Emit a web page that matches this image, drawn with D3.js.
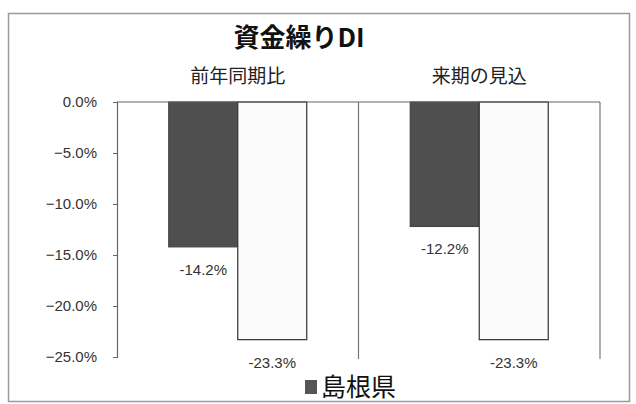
<!DOCTYPE html>
<html>
<head>
<meta charset="utf-8">
<script src="https://cdn.jsdelivr.net/npm/d3@7"></script>
<style>
  body { margin: 0; background: #fff; }
  svg { display: block; }
  .tick text { font-family: "Liberation Sans", "Noto Sans", sans-serif; }
</style>
</head>
<body>
<svg class="chart" width="636" height="404"></svg>
<script>
// chart data
const categories = ["前年同期比", "来期の見込"];
const seriesNames = ["島根県", "全国"];
const shimane = [-14.2, -12.2];
const other = [-23.3, -23.3];
const yTicks = [0, -5, -10, -15, -20, -25];

const svg = d3.select(".chart");
const jp = "'Noto Sans CJK JP', sans-serif";

// frame
svg.append("rect")
  .attr("x", 8.5).attr("y", 13.5)
  .attr("width", 621).attr("height", 388)
  .attr("fill", "#fff")
  .attr("stroke", "#9a9a9a")
  .attr("stroke-width", 1.5);

const plotL = 117, plotR = 600, plotT = 102, plotB = 357;

const x = d3.scaleBand().domain(categories).range([plotL, plotR]);
const xs = d3.scaleBand().domain(seriesNames).range([0, x.bandwidth()]).paddingOuter(0.75).paddingInner(0);
const y = d3.scaleLinear().domain([0, -25]).range([plotT, plotB]);

// title
svg.append("text")
  .attr("x", 299).attr("y", 47)
  .attr("text-anchor", "middle")
  .attr("font-family", jp)
  .attr("font-weight", "bold")
  .attr("font-size", 26)
  .attr("fill", "#111")
  .text("資金繰りDI");

// category labels above the plot
svg.selectAll(".cat")
  .data(categories)
  .join("text")
  .attr("class", "cat")
  .attr("x", d => x(d) + x.bandwidth() / 2)
  .attr("y", 83)
  .attr("text-anchor", "middle")
  .attr("font-family", jp)
  .attr("font-size", 19)
  .attr("fill", "#222")
  .text(d => d);

// category boundary lines
svg.selectAll(".sep")
  .data(categories)
  .join("line")
  .attr("class", "sep")
  .attr("x1", d => x(d) + x.bandwidth())
  .attr("x2", d => x(d) + x.bandwidth())
  .attr("y1", plotT).attr("y2", plotB + 2)
  .attr("stroke", "#777")
  .attr("stroke-width", 1.2);

// bars
const rows = categories.map((c, i) => ({ cat: c, vals: [shimane[i], other[i]] }));
const groups = svg.selectAll(".grp")
  .data(rows)
  .join("g")
  .attr("class", "grp")
  .attr("transform", d => `translate(${x(d.cat)},0)`);

groups.selectAll("rect")
  .data(d => d.vals.map((v, j) => ({ name: seriesNames[j], v })))
  .join("rect")
  .attr("x", d => xs(d.name))
  .attr("y", y(0))
  .attr("width", xs.bandwidth())
  .attr("height", d => y(d.v) - y(0))
  .attr("fill", d => d.name === "島根県" ? "#4f4f4f" : "#fbfbfb")
  .attr("stroke", d => d.name === "島根県" ? "#444" : "#333")
  .attr("stroke-width", 1.2);

groups.selectAll(".lbl")
  .data(d => d.vals.map((v, j) => ({ name: seriesNames[j], v })))
  .join("text")
  .attr("class", "lbl")
  .attr("x", d => xs(d.name) + xs.bandwidth() / 2)
  .attr("y", d => y(d.v) + 28)
  .attr("text-anchor", "middle")
  .attr("font-family", "'Liberation Sans', sans-serif")
  .attr("font-size", 15)
  .attr("fill", "#333")
  .text(d => d.v.toFixed(1) + "%");

// top axis line (value 0)
svg.append("line")
  .attr("x1", plotL).attr("x2", plotR)
  .attr("y1", y(0)).attr("y2", y(0))
  .attr("stroke", "#666").attr("stroke-width", 1.2);

// y axis
const yAxis = d3.axisLeft(y)
  .tickValues(yTicks)
  .tickSize(4)
  .tickPadding(16)
  .tickFormat(d => d3.format(".1f")(d) + "%");

svg.append("g")
  .attr("transform", `translate(${plotL},0)`)
  .call(yAxis)
  .call(g => g.select(".domain").attr("stroke", "#666").attr("stroke-width", 1.2))
  .call(g => g.selectAll(".tick line").attr("stroke", "#666"))
  .call(g => g.selectAll(".tick text").attr("font-size", 15).attr("fill", "#333"));

// legend
const lg = svg.append("g").attr("transform", "translate(305,380)");
lg.append("rect")
  .attr("width", 12).attr("height", 14)
  .attr("fill", "#555");
lg.append("text")
  .attr("x", 16).attr("y", 16)
  .attr("font-family", jp)
  .attr("font-size", 25)
  .attr("fill", "#111")
  .text(seriesNames[0]);
</script>
</body>
</html>
